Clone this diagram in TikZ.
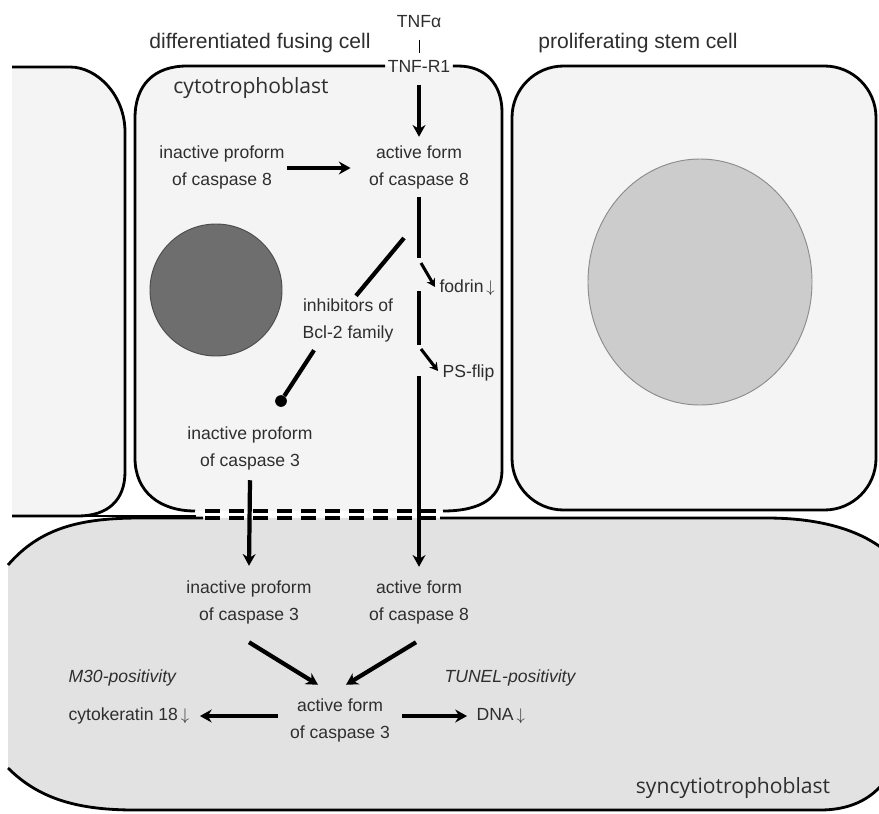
\documentclass[tikz,border=0pt]{standalone}
\usepackage{fontspec}
\setmainfont{Liberation Sans}
\newfontfamily\tissuefont{Open Sans}
\usetikzlibrary{positioning,calc,arrows.meta}

\definecolor{cellgray}{gray}{0.955}
\definecolor{syngray}{gray}{0.885}
\definecolor{darknuc}{gray}{0.43}
\definecolor{lightnuc}{gray}{0.80}
\definecolor{inkgray}{gray}{0.18}

\newcommand{\lblsize}{\fontsize{15}{23}\selectfont}
\newcommand{\lessarrow}{\,$\downarrow$}

\begin{document}
\begin{tikzpicture}[x=0.03cm, y=-0.03cm, font=\lblsize, >=Stealth, text=inkgray,
    membrane/.style={line width=2.4pt},
    pore/.style={line width=2.6pt, dash pattern=on 12.8pt off 7.7pt},
    lbl/.style={align=center, inner sep=2pt},
    head/.style={font=\fontsize{18}{21}\selectfont},
    tissue/.style={font=\tissuefont\fontsize{18}{21}\selectfont},
    note/.style={font=\lblsize\itshape, inner sep=2pt},
    bar/.style={line width=3.6pt},
    bigarr/.style={line width=3.6pt, -{Stealth[length=10pt,width=11pt]}},
    tickarr/.style={line width=2.6pt, -{Stealth[length=7pt,width=8pt]}}]
  \useasboundingbox (0,0) rectangle (879,813);
  \clip (0,0) rectangle (879,813);

  % cell bodies
  \fill[cellgray] (12,67) -- (70,67) .. controls (97,67) and (125,95) .. (125,132) -- (125,472) .. controls (125,500) and (108,516) .. (78,516) -- (12,516) -- cycle;
  \fill[cellgray] (195,511) .. controls (160,511) and (135,492) .. (135,458) -- (135,118) .. controls (135,85) and (154,66) .. (187,66) -- (458,66) .. controls (486,66) and (502,85) .. (502,112) -- (502,470) .. controls (502,497) and (482,511) .. (443,511) -- cycle;
  \filldraw[membrane, fill=cellgray, rounded corners=44pt] (512,66) rectangle (876,510);
  \fill[syngray] (8,565) .. controls (40,528) and (80,518) .. (140,518) -- (767,518) .. controls (830,518) and (880,535) .. (905,572) -- (905,720) .. controls (900,780) and (870,810) .. (820,810) -- (135,810) .. controls (80,810) and (40,800) .. (8,768) -- cycle;

  % nuclei
  \draw[line width=0.8pt, draw=black!70, fill=darknuc] (216,290) circle[radius=1.98cm];
  \draw[line width=0.8pt, draw=black!45, fill=lightnuc] (700,282) ellipse[x radius=3.36cm, y radius=3.69cm];

  % labels
  \node[head] (fuse) at (260,43) {differentiated fusing cell};
  \node[head] (stem) at (638,43) {proliferating stem cell};
  \node[lbl] (tnfa) at (419,22) {TNFα};
  \node[lbl] (tnfr) at (419,66) {TNF-R1};
  \node[tissue] (cyto) at (251,88) {cytotrophoblast};
  \node[tissue] (syncyt) at (733,788) {syncytiotrophoblast};
  \node[lbl] (pro8) at (222,167) {inactive proform\\of caspase 8};
  \node[lbl] (act8) at (419,167) {active form\\of caspase 8};
  \node[lbl, anchor=west] (fodrin) at (437,288) {fodrin\lessarrow};
  \node[lbl, anchor=west] (psflip) at (440,373) {PS-flip};
  \node[lbl] (bcl) at (348,320) {inhibitors of\\Bcl-2 family};
  \node[circle, fill=black, inner sep=0pt, minimum size=10pt] (blk) at (281,401) {};
  \node[lbl] (pro3) at (250,448) {inactive proform\\of caspase 3};
  \node[lbl] (spro3) at (249,602) {inactive proform\\of caspase 3};
  \node[lbl] (sact8) at (419,602) {active form\\of caspase 8};
  \node[lbl] (act3) at (340,720) {active form\\of caspase 3};
  \node[note, anchor=west] (m30) at (66,678) {M30-positivity};
  \node[note] (tunel) at (510,678) {TUNEL-positivity};
  \node[lbl, anchor=west] (ck18) at (66,716) {cytokeratin 18\lessarrow};
  \node[lbl, anchor=west] (dna) at (474,716) {DNA\lessarrow};

  % membranes
  \draw[membrane] (12,67) -- (70,67) .. controls (97,67) and (125,95) .. (125,132) -- (125,472) .. controls (125,500) and (108,516) .. (78,516) -- (12,516);
  \draw[membrane] (78,516) -- (196,516);
  \draw[membrane] (tnfr.west) -- (187,66) .. controls (154,66) and (135,85) .. (135,118) -- (135,458) .. controls (135,492) and (160,511) .. (195,511);
  \draw[membrane] (tnfr.east) -- (458,66) .. controls (486,66) and (502,85) .. (502,112) -- (502,470) .. controls (502,497) and (482,511) .. (443,511);
  \draw[membrane] (8,565) .. controls (40,528) and (80,518) .. (140,518) -- (203,518);
  \draw[membrane] (440,518) -- (767,518) .. controls (830,518) and (880,535) .. (905,572) -- (905,720) .. controls (900,780) and (870,810) .. (820,810) -- (135,810) .. controls (80,810) and (40,800) .. (8,768);
  \foreach \y in {511,518}
    \draw[pore] (205,\y) -- (437,\y);

  % signalling
  \draw[line width=0.8pt] ($(tnfa.south)+(0,9)$) -- ($(tnfr.north)+(0,-4)$);
  \draw[bigarr] ($(tnfr.south)+(0,10)$) -- ($(act8.north)+(0,-6)$);
  \draw[bigarr] ($(pro8.east)+(0,1)$) -- ($(act8.west)+(-16,1)$);
  \coordinate (v1) at (419,258);
  \coordinate (v2) at (419,291);
  \coordinate (v3) at (419,345);
  \coordinate (v4) at (419,376);
  \draw[bar] ($(act8.south)+(0,6)$) -- (v1);
  \draw[bar] (v2) -- (v3);
  \draw[bigarr] (v4) -- ($(sact8.north)+(0,-11)$);
  \draw[tickarr] ($(v1)+(2,5)$) -- ($(fodrin.west)+(-2,-1)$);
  \draw[tickarr] ($(v3)+(2,4)$) -- ($(psflip.west)+(-2,-2)$);
  \coordinate (cut) at (404,238);
  \draw[bar] (cut) -- ($(bcl.north)+(8,0)$);
  \draw[bar] ($(bcl.south west)+(14,6)$) -- (blk);
  \draw[bigarr] ($(pro3.south)+(0,8)$) -- ($(spro3.north)+(0,-12)$);
  \draw[bigarr] ($(spro3.south)+(0,16)$) -- ($(act3.north)+(-22,-11)$);
  \draw[bigarr] ($(sact8.south)+(-3,16)$) -- ($(act3.north)+(6,-11)$);
  \draw[bigarr] ($(act3.west |- ck18.east)+(-10,0)$) -- ($(ck18.east)+(8,0)$);
  \draw[bigarr] ($(act3.east |- dna.west)+(10,0)$) -- ($(dna.west)+(-7,0)$);
\end{tikzpicture}
\end{document}
